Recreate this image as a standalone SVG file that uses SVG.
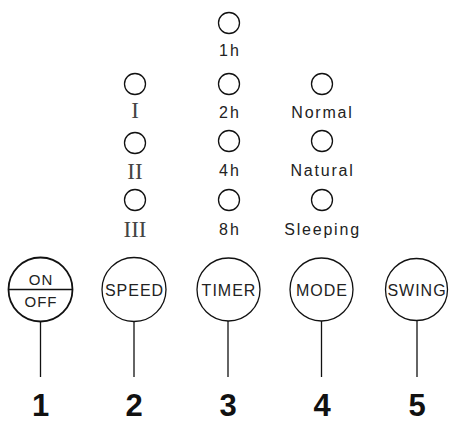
<svg xmlns="http://www.w3.org/2000/svg" width="449" height="422" viewBox="0 0 449 422">
<style>
.btn{fill:#fff;stroke:#111;stroke-width:1.3}
.ind{fill:none;stroke:#111;stroke-width:1.3}
.conn{stroke:#111;stroke-width:1.3}
.bl{font-family:"Liberation Sans",Arial,sans-serif;font-size:16px;letter-spacing:1px;fill:#222;text-anchor:middle}
.lb{font-family:"Liberation Sans",Arial,sans-serif;font-size:16px;letter-spacing:1.8px;fill:#222;text-anchor:middle}
.tl{font-family:"Liberation Sans",Arial,sans-serif;font-size:16px;letter-spacing:2px;fill:#222;text-anchor:middle}
.rn{font-family:"Liberation Serif","Times New Roman",serif;font-size:23px;fill:#444;text-anchor:middle}
.num{font-family:"Liberation Sans",Arial,sans-serif;font-size:31px;font-weight:bold;fill:#111;text-anchor:middle}
</style>
<rect width="449" height="422" fill="#fff"/>
<g id="connectors">
<line class="conn" x1="40.5" y1="321" x2="40.5" y2="377"/>
<line class="conn" x1="134" y1="321" x2="134" y2="377"/>
<line class="conn" x1="228" y1="321" x2="228" y2="377"/>
<line class="conn" x1="321.5" y1="321" x2="321.5" y2="377"/>
<line class="conn" x1="417" y1="321" x2="417" y2="377"/>
</g>
<g id="onoff">
<circle class="btn" cx="40.5" cy="289.5" r="32" style="stroke-width:1.8"/>
<line x1="8.5" y1="289.5" x2="72.5" y2="289.5" stroke="#111" stroke-width="1.6"/>
<text class="bl" x="41" y="284.5" style="font-size:15px">ON</text>
<text class="bl" x="41" y="307" style="font-size:15px">OFF</text>
<text class="num" x="40.5" y="416">1</text>
</g>
<g id="speed">
<circle class="btn" cx="134" cy="289.5" r="32"/>
<text class="bl" x="134.5" y="295.5">SPEED</text>
<text class="num" x="134" y="416">2</text>
<circle class="ind" cx="135" cy="84" r="10.5"/>
<text class="rn" x="135" y="117.5">I</text>
<circle class="ind" cx="135" cy="143" r="10.5"/>
<text class="rn" x="135" y="178.5">II</text>
<circle class="ind" cx="135" cy="200" r="10.5"/>
<text class="rn" x="135" y="237">III</text>
</g>
<g id="timer">
<circle class="btn" cx="228.5" cy="289.5" r="31.5"/>
<text class="bl" x="229" y="295.5">TIMER</text>
<text class="num" x="228" y="416">3</text>
<circle class="ind" cx="229" cy="23" r="10.5"/>
<text class="tl" x="230" y="56">1h</text>
<circle class="ind" cx="229" cy="84" r="10.5"/>
<text class="tl" x="230" y="117.5">2h</text>
<circle class="ind" cx="229" cy="141" r="10.5"/>
<text class="tl" x="230" y="175.5">4h</text>
<circle class="ind" cx="229" cy="200" r="10.5"/>
<text class="tl" x="230" y="235">8h</text>
</g>
<g id="mode">
<circle class="btn" cx="321.5" cy="289.5" r="31.5"/>
<text class="bl" x="322" y="295.5">MODE</text>
<text class="num" x="322" y="416">4</text>
<circle class="ind" cx="322" cy="84" r="10.5"/>
<text class="lb" x="322.5" y="117.5">Normal</text>
<circle class="ind" cx="322" cy="141" r="10.5"/>
<text class="lb" x="322.5" y="175.5">Natural</text>
<circle class="ind" cx="322" cy="200" r="10.5"/>
<text class="lb" x="322.5" y="235">Sleeping</text>
</g>
<g id="swing">
<circle class="btn" cx="416.5" cy="289.5" r="31"/>
<text class="bl" x="417" y="295.5">SWING</text>
<text class="num" x="417" y="416">5</text>
</g>
</svg>
